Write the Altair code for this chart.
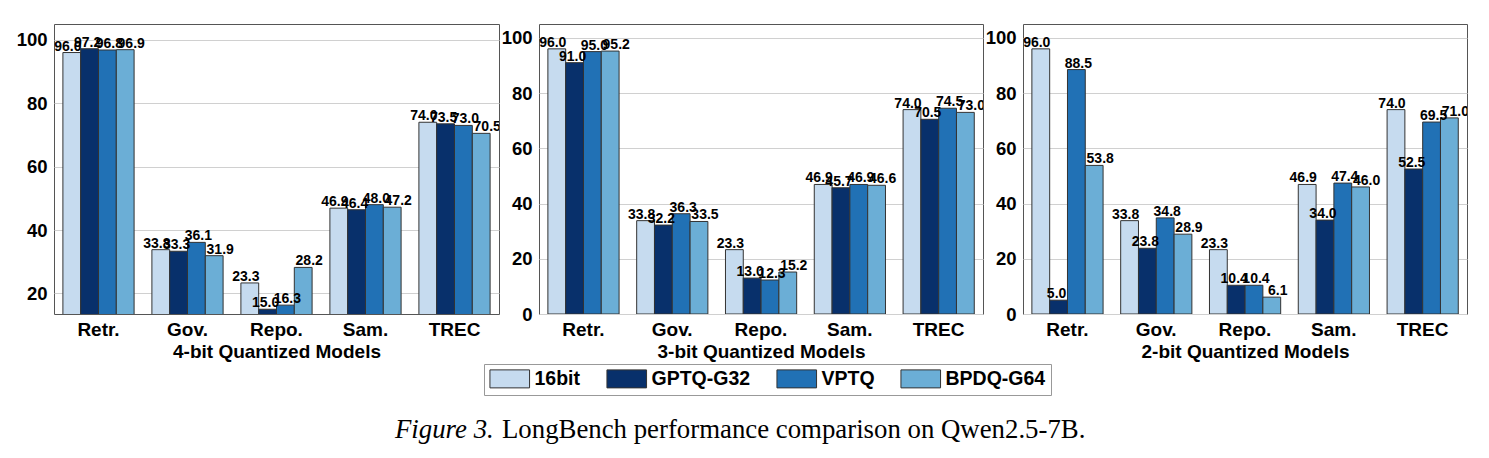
import altair as alt
import pandas as pd

categories = ["Retr.", "Gov.", "Repo.", "Sam.", "TREC"]
series = ["16bit", "GPTQ-G32", "VPTQ", "BPDQ-G64"]
colors = ["#c6dbef", "#08306b", "#2171b5", "#6baed6"]

# 4-bit
q4_16bit = [96.0, 33.8, 23.3, 46.9, 74.0]
q4_gptq = [97.2, 33.3, 15.0, 46.4, 73.5]
q4_vptq = [96.8, 36.1, 16.3, 48.0, 73.0]
q4_bpdq = [96.9, 31.9, 28.2, 47.2, 70.5]
# 3-bit
q3_16bit = [96.0, 33.8, 23.3, 46.9, 74.0]
q3_gptq = [91.0, 32.2, 13.0, 45.7, 70.5]
q3_vptq = [95.0, 36.3, 12.3, 46.9, 74.5]
q3_bpdq = [95.2, 33.5, 15.2, 46.6, 73.0]
# 2-bit
q2_16bit = [96.0, 33.8, 23.3, 46.9, 74.0]
q2_gptq = [5.0, 23.8, 10.4, 34.0, 52.5]
q2_vptq = [88.5, 34.8, 10.4, 47.4, 69.5]
q2_bpdq = [53.8, 28.9, 6.1, 46.0, 71.0]

titles = ["4-bit Quantized Models", "3-bit Quantized Models", "2-bit Quantized Models"]
ticks_4bit = [20, 40, 60, 80, 100]
ticks_other = [0, 20, 40, 60, 80, 100]

caption_italic = "Figure 3."
caption_rest = "LongBench performance comparison on Qwen2.5-7B."

SANS = "Liberation Sans"
SERIF = "Liberation Serif"

# horizontal spread of the value labels per series (style only)
label_dx = [-4, -2, 2, 6]


def make_df(lists):
    rows = []
    for s, vals in zip(series, lists):
        for c, v in zip(categories, vals):
            rows.append({"cat": c, "series": s, "value": v})
    return pd.DataFrame(rows)


legend = alt.Legend(
    orient="none", legendX=430, legendY=340, direction="horizontal", columns=4,
    title=None, symbolType="M-2.2,-1H2.2V1H-2.2Z", symbolSize=324,
    symbolStrokeColor="#333", symbolStrokeWidth=1, symbolOffset=11,
    labelFont=SANS, labelFontSize=19.5, labelFontWeight="bold", labelColor="black",
    labelOffset=15, columnPadding=23, padding=5, strokeColor="#999",
    fillColor="white", symbolOpacity=1,
)


def panel(df, title, domain, ticks, width, caption=False):
    base = alt.Chart(df).encode(
        x=alt.X("cat:N", sort=categories, title=title,
                scale=alt.Scale(paddingInner=0.2, paddingOuter=0.1),
                axis=alt.Axis(labelAngle=0, ticks=False, domain=False, grid=False,
                              labelPadding=6, titlePadding=3,
                              labelFont=SANS, labelFontSize=19, labelFontWeight="bold",
                              labelColor="black", titleFont=SANS, titleFontSize=19,
                              titleFontWeight="bold", titleColor="black")),
        xOffset=alt.XOffset("series:N", sort=series),
        y=alt.Y("value:Q", title=None,
                scale=alt.Scale(domain=domain, nice=False, zero=False),
                axis=alt.Axis(values=ticks, ticks=False, domain=False, grid=True,
                              gridColor="#d0d0d0", gridWidth=1, labelPadding=7,
                              labelFont=SANS, labelFontSize=18.5, labelFontWeight="bold",
                              labelColor="black")),
    )
    bars = base.mark_bar(clip=True, stroke="#333", strokeWidth=1).encode(
        color=alt.Color("series:N", sort=series,
                        scale=alt.Scale(domain=series, range=colors), legend=legend)
    )
    layers = [bars]
    for s, dx in zip(series, label_dx):
        layers.append(
            base.transform_filter(alt.datum.series == s).mark_text(
                clip=True, baseline="alphabetic", dy=-2, dx=dx, font=SANS,
                fontSize=14, fontWeight="bold", color="black").encode(
                text=alt.Text("value:Q", format=".1f"))
        )
    if caption:
        cap_df = pd.DataFrame({"a": [caption_italic], "b": [caption_rest]})
        c1 = alt.Chart(cap_df).mark_text(clip=False, align="left", baseline="alphabetic",
                                         font=SERIF, fontSize=26.8, fontStyle="italic",
                                         color="black").encode(
            text="a:N", x=alt.value(341), y=alt.value(414))
        c2 = alt.Chart(cap_df).mark_text(clip=False, align="left", baseline="alphabetic",
                                         font=SERIF, fontSize=26.8, color="black").encode(
            text="b:N", x=alt.value(448), y=alt.value(414))
        layers += [c1, c2]
    return alt.layer(*layers).properties(width=width, height=290)


p1 = panel(make_df([q4_16bit, q4_gptq, q4_vptq, q4_bpdq]), titles[0], [13.5, 105], ticks_4bit, 445, caption=True)
p2 = panel(make_df([q3_16bit, q3_gptq, q3_vptq, q3_bpdq]), titles[1], [0, 105], ticks_other, 444)
p3 = panel(make_df([q2_16bit, q2_gptq, q2_vptq, q2_bpdq]), titles[2], [0, 105], ticks_other, 444)

chart = alt.hconcat(p1, p2, p3, spacing=40, bounds="flush").properties(
    padding={"left": 15, "top": 23, "right": 5, "bottom": 5},
    background="white",
).configure_view(stroke="#555", strokeWidth=1)

chart.save("out.html", embed_options={"renderer": "svg", "actions": False})
